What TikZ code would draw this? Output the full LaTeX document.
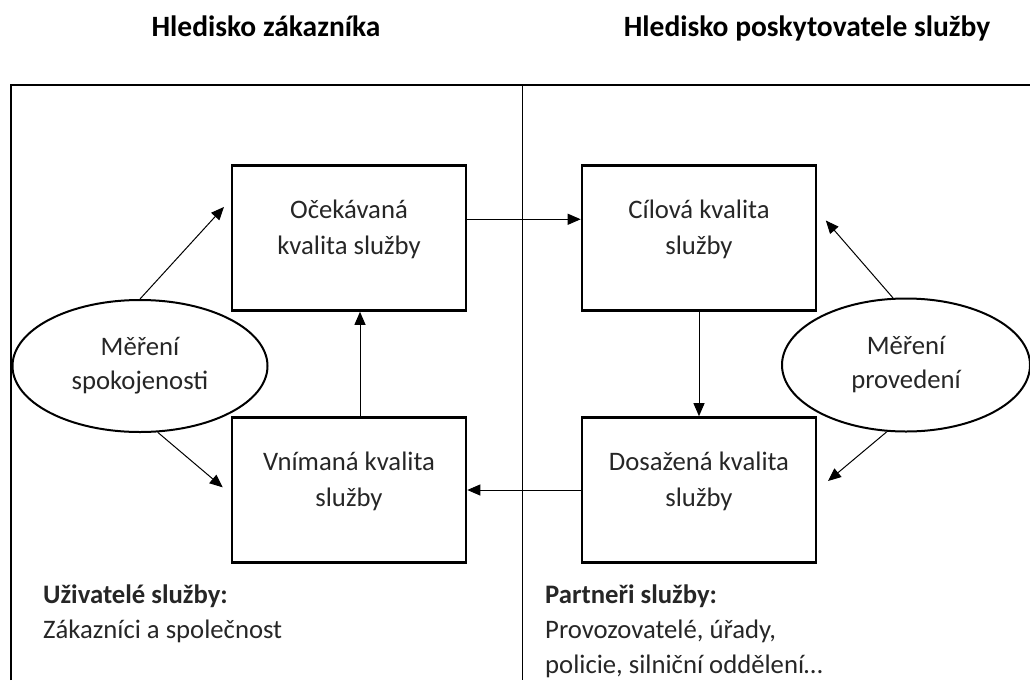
\documentclass[tikz,border=0pt]{standalone}
\usepackage{fontspec}
\setmainfont{Carlito}
\usetikzlibrary{shapes.geometric, arrows.meta}

\begin{document}
\begin{tikzpicture}[x=1pt, y=-1pt,
  box/.style={draw, line width=2.6pt, minimum width=234pt, minimum height=145pt},
  txt/.style={align=center, text=black!85, font=\fontsize{26.7}{36}\selectfont},
  oval/.style={draw, ellipse, line width=2pt, inner sep=0pt, align=center,
    text=black!85, font=\fontsize{26.7}{34}\selectfont},
  note/.style={align=left, anchor=base west, inner sep=0pt, text=black!85,
    font=\fontsize{26.7}{35}\selectfont},
  head/.style={anchor=base, inner sep=0pt, font=\fontsize{29.5}{35}\selectfont\bfseries},
  arr/.style={-{Triangle[length=13pt,width=11pt]}, line width=1pt}]
\useasboundingbox (0,0) rectangle (1030,680);

% frame
\draw[line width=2pt] (11,680) -- (11,85) -- (1031,85);
\draw[line width=0.9pt] (522,85) -- (522,680);

% headings
\node[head] (hzak) at (266,36) {Hledisko zákazníka};
\node[head] (hposk) at (807,36) {Hledisko poskytovatele služby};

% boxes
\node[box] (ocek) at (349,238) {};
\node[txt] (ocek-t) at (349,229) {Očekávaná\\kvalita služby};
\node[box] (cil) at (699,238) {};
\node[txt] (cil-t) at (699,229) {Cílová kvalita\\služby};
\node[box] (vnim) at (349,490) {};
\node[txt] (vnim-t) at (349,481) {Vnímaná kvalita\\služby};
\node[box] (dos) at (699,490) {};
\node[txt] (dos-t) at (699,481) {Dosažená kvalita\\služby};

% ovals
\node[oval, minimum width=255pt, minimum height=132pt] (spok) at (140,366) {Měření\\spokojenosti};
\node[oval, minimum width=248pt, minimum height=133pt] (prov) at (906,365) {Měření\\provedení};

% arrows
\draw[arr, shorten >=10pt] (spok.north) -- (ocek.162);
\draw[arr, shorten >=10.5pt] (spok.285) -- (vnim.182);
\draw[arr] ([xshift=11pt]vnim.north) -- ([xshift=11pt]ocek.south);
\draw[arr] (ocek.9) -- (cil.171);
\draw[arr] (cil.south) -- (dos.north);
\draw[arr] (dos.west) -- (vnim.east);
\draw[arr, shorten >=13pt] (prov.101) -- (cil.13.5);
\draw[arr, shorten >=14pt] (prov.254) -- (dos.east);

% notes
\node[note] (uziv) at (43,638) {\textbf{Uživatelé služby:}\\Zákazníci a společnost};
\node[note] (partn) at (545,673) {\textbf{Partneři služby:}\\Provozovatelé, úřady,\\policie, silniční oddělení…};
\end{tikzpicture}
\end{document}
